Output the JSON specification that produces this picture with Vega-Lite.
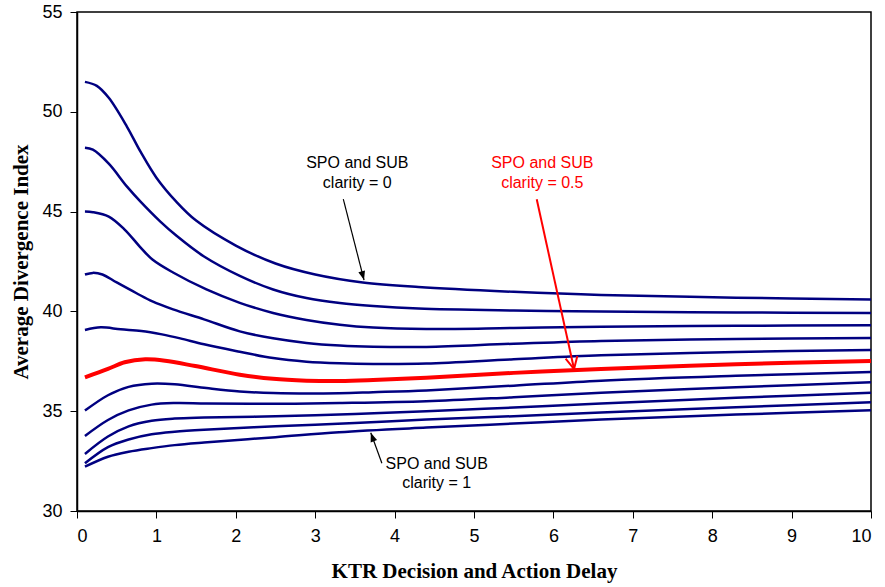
{
  "$schema": "https://vega.github.io/schema/vega-lite/v6.json",
  "width": 794,
  "height": 499,
  "autosize": {"type": "none"},
  "padding": {"left": 77, "top": 12, "right": 14, "bottom": 76},
  "background": "white",
  "config": {
    "view": {"stroke": "#000000", "strokeWidth": 1.5},
    "axis": {
      "grid": false,
      "domainColor": "#000000",
      "domainWidth": 1.5,
      "tickColor": "#000000",
      "tickSize": 7,
      "labelColor": "#000000",
      "labelFont": "Liberation Sans",
      "labelFontSize": 18,
      "titleFont": "Liberation Serif",
      "titleFontWeight": "bold",
      "titleFontSize": 21,
      "titleColor": "#000000"
    }
  },
  "datasets": {
    "curves": [
      {"c": 0, "x": 0.1, "y": 51.5}, {"c": 0, "x": 0.25, "y": 51.3}, {"c": 0, "x": 0.4, "y": 50.7}, {"c": 0, "x": 0.63, "y": 49.25}, {"c": 0, "x": 0.8, "y": 48.0}, {"c": 0, "x": 1.0, "y": 46.7}, {"c": 0, "x": 1.25, "y": 45.5}, {"c": 0, "x": 1.5, "y": 44.55}, {"c": 0, "x": 2.0, "y": 43.3}, {"c": 0, "x": 2.5, "y": 42.4}, {"c": 0, "x": 3.0, "y": 41.85}, {"c": 0, "x": 3.6, "y": 41.45}, {"c": 0, "x": 4.3, "y": 41.22}, {"c": 0, "x": 5.5, "y": 40.98}, {"c": 0, "x": 6.6, "y": 40.82}, {"c": 0, "x": 8.3, "y": 40.69}, {"c": 0, "x": 10, "y": 40.59},

      {"c": 0.1, "x": 0.1, "y": 48.2}, {"c": 0.1, "x": 0.2, "y": 48.1}, {"c": 0.1, "x": 0.4, "y": 47.4}, {"c": 0.1, "x": 0.63, "y": 46.25}, {"c": 0.1, "x": 0.8, "y": 45.5}, {"c": 0.1, "x": 1.05, "y": 44.5}, {"c": 0.1, "x": 1.25, "y": 43.8}, {"c": 0.1, "x": 1.6, "y": 42.75}, {"c": 0.1, "x": 2.05, "y": 41.78}, {"c": 0.1, "x": 2.47, "y": 41.1}, {"c": 0.1, "x": 2.89, "y": 40.67}, {"c": 0.1, "x": 3.31, "y": 40.42}, {"c": 0.1, "x": 3.73, "y": 40.27}, {"c": 0.1, "x": 4.3, "y": 40.14}, {"c": 0.1, "x": 5.5, "y": 40.04}, {"c": 0.1, "x": 6.6, "y": 39.99}, {"c": 0.1, "x": 8.3, "y": 39.95}, {"c": 0.1, "x": 10, "y": 39.92},

      {"c": 0.2, "x": 0.1, "y": 45.0}, {"c": 0.2, "x": 0.2, "y": 44.97}, {"c": 0.2, "x": 0.4, "y": 44.75}, {"c": 0.2, "x": 0.6, "y": 44.1}, {"c": 0.2, "x": 0.79, "y": 43.25}, {"c": 0.2, "x": 0.95, "y": 42.6}, {"c": 0.2, "x": 1.21, "y": 41.95}, {"c": 0.2, "x": 1.63, "y": 41.1}, {"c": 0.2, "x": 2.05, "y": 40.43}, {"c": 0.2, "x": 2.47, "y": 39.92}, {"c": 0.2, "x": 2.89, "y": 39.57}, {"c": 0.2, "x": 3.31, "y": 39.33}, {"c": 0.2, "x": 3.73, "y": 39.19}, {"c": 0.2, "x": 4.4, "y": 39.12}, {"c": 0.2, "x": 5.5, "y": 39.17}, {"c": 0.2, "x": 6.6, "y": 39.23}, {"c": 0.2, "x": 8.3, "y": 39.28}, {"c": 0.2, "x": 10, "y": 39.3},

      {"c": 0.3, "x": 0.1, "y": 41.85}, {"c": 0.3, "x": 0.2, "y": 41.93}, {"c": 0.3, "x": 0.32, "y": 41.85}, {"c": 0.3, "x": 0.5, "y": 41.45}, {"c": 0.3, "x": 0.75, "y": 40.91}, {"c": 0.3, "x": 0.95, "y": 40.5}, {"c": 0.3, "x": 1.21, "y": 40.1}, {"c": 0.3, "x": 1.6, "y": 39.6}, {"c": 0.3, "x": 2.05, "y": 39.0}, {"c": 0.3, "x": 2.47, "y": 38.65}, {"c": 0.3, "x": 2.89, "y": 38.42}, {"c": 0.3, "x": 3.31, "y": 38.29}, {"c": 0.3, "x": 3.73, "y": 38.23}, {"c": 0.3, "x": 4.4, "y": 38.22}, {"c": 0.3, "x": 5.5, "y": 38.38}, {"c": 0.3, "x": 6.6, "y": 38.52}, {"c": 0.3, "x": 8.3, "y": 38.62}, {"c": 0.3, "x": 10, "y": 38.67},

      {"c": 0.4, "x": 0.1, "y": 39.07}, {"c": 0.4, "x": 0.3, "y": 39.2}, {"c": 0.4, "x": 0.55, "y": 39.1}, {"c": 0.4, "x": 0.81, "y": 39.02}, {"c": 0.4, "x": 1.07, "y": 38.85}, {"c": 0.4, "x": 1.3, "y": 38.65}, {"c": 0.4, "x": 1.6, "y": 38.35}, {"c": 0.4, "x": 2.05, "y": 37.98}, {"c": 0.4, "x": 2.47, "y": 37.66}, {"c": 0.4, "x": 2.89, "y": 37.48}, {"c": 0.4, "x": 3.31, "y": 37.4}, {"c": 0.4, "x": 3.73, "y": 37.37}, {"c": 0.4, "x": 4.4, "y": 37.39}, {"c": 0.4, "x": 5.5, "y": 37.6}, {"c": 0.4, "x": 6.6, "y": 37.8}, {"c": 0.4, "x": 8.3, "y": 37.97}, {"c": 0.4, "x": 10, "y": 38.07},

      {"c": 0.5, "x": 0.1, "y": 36.7}, {"c": 0.5, "x": 0.39, "y": 37.12}, {"c": 0.5, "x": 0.6, "y": 37.45}, {"c": 0.5, "x": 0.86, "y": 37.6}, {"c": 0.5, "x": 1.11, "y": 37.53}, {"c": 0.5, "x": 1.49, "y": 37.26}, {"c": 0.5, "x": 2.05, "y": 36.83}, {"c": 0.5, "x": 2.47, "y": 36.62}, {"c": 0.5, "x": 2.89, "y": 36.53}, {"c": 0.5, "x": 3.31, "y": 36.51}, {"c": 0.5, "x": 3.73, "y": 36.56}, {"c": 0.5, "x": 4.4, "y": 36.68}, {"c": 0.5, "x": 5.5, "y": 36.92}, {"c": 0.5, "x": 6.6, "y": 37.12}, {"c": 0.5, "x": 8.3, "y": 37.35}, {"c": 0.5, "x": 10, "y": 37.52},

      {"c": 0.6, "x": 0.1, "y": 35.03}, {"c": 0.6, "x": 0.39, "y": 35.8}, {"c": 0.6, "x": 0.65, "y": 36.22}, {"c": 0.6, "x": 0.94, "y": 36.38}, {"c": 0.6, "x": 1.23, "y": 36.35}, {"c": 0.6, "x": 1.63, "y": 36.16}, {"c": 0.6, "x": 2.05, "y": 35.99}, {"c": 0.6, "x": 2.47, "y": 35.91}, {"c": 0.6, "x": 3.3, "y": 35.9}, {"c": 0.6, "x": 3.73, "y": 35.95}, {"c": 0.6, "x": 4.4, "y": 36.04}, {"c": 0.6, "x": 5.5, "y": 36.28}, {"c": 0.6, "x": 6.6, "y": 36.53}, {"c": 0.6, "x": 8.3, "y": 36.77}, {"c": 0.6, "x": 10, "y": 36.96},

      {"c": 0.7, "x": 0.1, "y": 33.76}, {"c": 0.7, "x": 0.39, "y": 34.56}, {"c": 0.7, "x": 0.65, "y": 35.04}, {"c": 0.7, "x": 0.94, "y": 35.33}, {"c": 0.7, "x": 1.23, "y": 35.41}, {"c": 0.7, "x": 1.63, "y": 35.39}, {"c": 0.7, "x": 2.47, "y": 35.37}, {"c": 0.7, "x": 3.31, "y": 35.41}, {"c": 0.7, "x": 4.4, "y": 35.5}, {"c": 0.7, "x": 5.5, "y": 35.7}, {"c": 0.7, "x": 6.6, "y": 35.92}, {"c": 0.7, "x": 8.3, "y": 36.2}, {"c": 0.7, "x": 10, "y": 36.45},

      {"c": 0.8, "x": 0.1, "y": 32.86}, {"c": 0.8, "x": 0.39, "y": 33.73}, {"c": 0.8, "x": 0.65, "y": 34.24}, {"c": 0.8, "x": 0.94, "y": 34.52}, {"c": 0.8, "x": 1.23, "y": 34.63}, {"c": 0.8, "x": 1.6, "y": 34.68}, {"c": 0.8, "x": 2.5, "y": 34.75}, {"c": 0.8, "x": 3.5, "y": 34.86}, {"c": 0.8, "x": 4.4, "y": 35.0}, {"c": 0.8, "x": 5.5, "y": 35.18}, {"c": 0.8, "x": 6.6, "y": 35.38}, {"c": 0.8, "x": 8.3, "y": 35.67}, {"c": 0.8, "x": 10, "y": 35.93},

      {"c": 0.9, "x": 0.1, "y": 32.39}, {"c": 0.9, "x": 0.39, "y": 33.2}, {"c": 0.9, "x": 0.65, "y": 33.58}, {"c": 0.9, "x": 0.94, "y": 33.84}, {"c": 0.9, "x": 1.23, "y": 33.97}, {"c": 0.9, "x": 1.6, "y": 34.07}, {"c": 0.9, "x": 2.5, "y": 34.24}, {"c": 0.9, "x": 3.5, "y": 34.41}, {"c": 0.9, "x": 4.4, "y": 34.58}, {"c": 0.9, "x": 5.5, "y": 34.75}, {"c": 0.9, "x": 6.6, "y": 34.94}, {"c": 0.9, "x": 8.3, "y": 35.2}, {"c": 0.9, "x": 10, "y": 35.45},

      {"c": 1, "x": 0.1, "y": 32.22}, {"c": 1, "x": 0.39, "y": 32.72}, {"c": 1, "x": 0.65, "y": 32.97}, {"c": 1, "x": 0.94, "y": 33.15}, {"c": 1, "x": 1.23, "y": 33.3}, {"c": 1, "x": 1.6, "y": 33.43}, {"c": 1, "x": 2.5, "y": 33.7}, {"c": 1, "x": 3.3, "y": 33.95}, {"c": 1, "x": 4.4, "y": 34.18}, {"c": 1, "x": 5.5, "y": 34.38}, {"c": 1, "x": 6.6, "y": 34.58}, {"c": 1, "x": 8.3, "y": 34.83}, {"c": 1, "x": 10, "y": 35.05}
    ],
    "blackArrows": [
      {"x": 3.354, "y": 45.62, "x2": 3.615, "y2": 41.57},
      {"x": 3.84, "y": 32.39, "x2": 3.7, "y2": 33.92}
    ],
    "redArrow": [
      {"x": 5.79, "y": 45.62, "x2": 6.26, "y2": 37.11}
    ],
    "blackLabels": [
      {"x": 3.53, "y": 47.17, "t": "SPO and SUB"},
      {"x": 3.53, "y": 46.17, "t": "clarity = 0"},
      {"x": 4.53, "y": 32.09, "t": "SPO and SUB"},
      {"x": 4.53, "y": 31.14, "t": "clarity = 1"}
    ],
    "redLabels": [
      {"x": 5.86, "y": 47.17, "t": "SPO and SUB"},
      {"x": 5.86, "y": 46.17, "t": "clarity = 0.5"}
    ]
  },
  "layer": [
    {
      "data": {"name": "curves"},
      "transform": [{"filter": "datum.c != 0.5"}],
      "mark": {"type": "line", "interpolate": "catmull-rom", "color": "#000080", "strokeWidth": 2.5},
      "encoding": {
        "x": {
          "field": "x", "type": "quantitative",
          "scale": {"domain": [0, 10], "nice": false},
          "axis": {"values": [0, 1, 2, 3, 4, 5, 6, 7, 8, 9, 10], "format": "d", "title": "KTR Decision and Action Delay", "labelPadding": 9, "titlePadding": 15}
        },
        "y": {
          "field": "y", "type": "quantitative",
          "scale": {"domain": [30, 55], "nice": false, "zero": false},
          "axis": {"values": [30, 35, 40, 45, 50, 55], "format": "d", "title": "Average Divergence Index", "labelPadding": 8, "titlePadding": 10}
        },
        "detail": {"field": "c", "type": "nominal"}
      }
    },
    {
      "data": {"name": "curves"},
      "transform": [{"filter": "datum.c == 0.5"}],
      "mark": {"type": "line", "interpolate": "catmull-rom", "color": "#FF0000", "strokeWidth": 4},
      "encoding": {
        "x": {"field": "x", "type": "quantitative"},
        "y": {"field": "y", "type": "quantitative"}
      }
    },
    {
      "data": {"name": "blackArrows"},
      "mark": {"type": "rule", "color": "#000000", "strokeWidth": 1.2},
      "encoding": {
        "x": {"field": "x", "type": "quantitative"},
        "y": {"field": "y", "type": "quantitative"},
        "x2": {"field": "x2"},
        "y2": {"field": "y2"}
      }
    },
    {
      "data": {"name": "blackArrows"},
      "transform": [{"filter": "datum.x < 3.7"}],
      "mark": {"type": "point", "shape": "M 0 0 L -0.38 -1 L 0.38 -1 Z", "filled": true, "color": "#000000", "opacity": 1, "size": 324, "angle": -15.2},
      "encoding": {
        "x": {"field": "x2", "type": "quantitative"},
        "y": {"field": "y2", "type": "quantitative"}
      }
    },
    {
      "data": {"name": "blackArrows"},
      "transform": [{"filter": "datum.x > 3.7"}],
      "mark": {"type": "point", "shape": "M 0 0 L -0.38 -1 L 0.38 -1 Z", "filled": true, "color": "#000000", "opacity": 1, "size": 324, "angle": 159.9},
      "encoding": {
        "x": {"field": "x2", "type": "quantitative"},
        "y": {"field": "y2", "type": "quantitative"}
      }
    },
    {
      "data": {"name": "redArrow"},
      "mark": {"type": "rule", "color": "#FF0000", "strokeWidth": 2},
      "encoding": {
        "x": {"field": "x", "type": "quantitative"},
        "y": {"field": "y", "type": "quantitative"},
        "x2": {"field": "x2"},
        "y2": {"field": "y2"}
      }
    },
    {
      "data": {"name": "redArrow"},
      "mark": {"type": "point", "shape": "M -0.5 -1 L 0 0 L 0.5 -1", "filled": false, "color": "#FF0000", "opacity": 1, "strokeWidth": 2, "size": 576, "angle": -12.4},
      "encoding": {
        "x": {"field": "x2", "type": "quantitative"},
        "y": {"field": "y2", "type": "quantitative"}
      }
    },
    {
      "data": {"name": "blackLabels"},
      "mark": {"type": "text", "font": "Liberation Sans", "fontSize": 16, "color": "#000000", "align": "center", "baseline": "alphabetic"},
      "encoding": {
        "x": {"field": "x", "type": "quantitative"},
        "y": {"field": "y", "type": "quantitative"},
        "text": {"field": "t"}
      }
    },
    {
      "data": {"name": "redLabels"},
      "mark": {"type": "text", "font": "Liberation Sans", "fontSize": 16, "color": "#FF0000", "align": "center", "baseline": "alphabetic"},
      "encoding": {
        "x": {"field": "x", "type": "quantitative"},
        "y": {"field": "y", "type": "quantitative"},
        "text": {"field": "t"}
      }
    }
  ]
}
